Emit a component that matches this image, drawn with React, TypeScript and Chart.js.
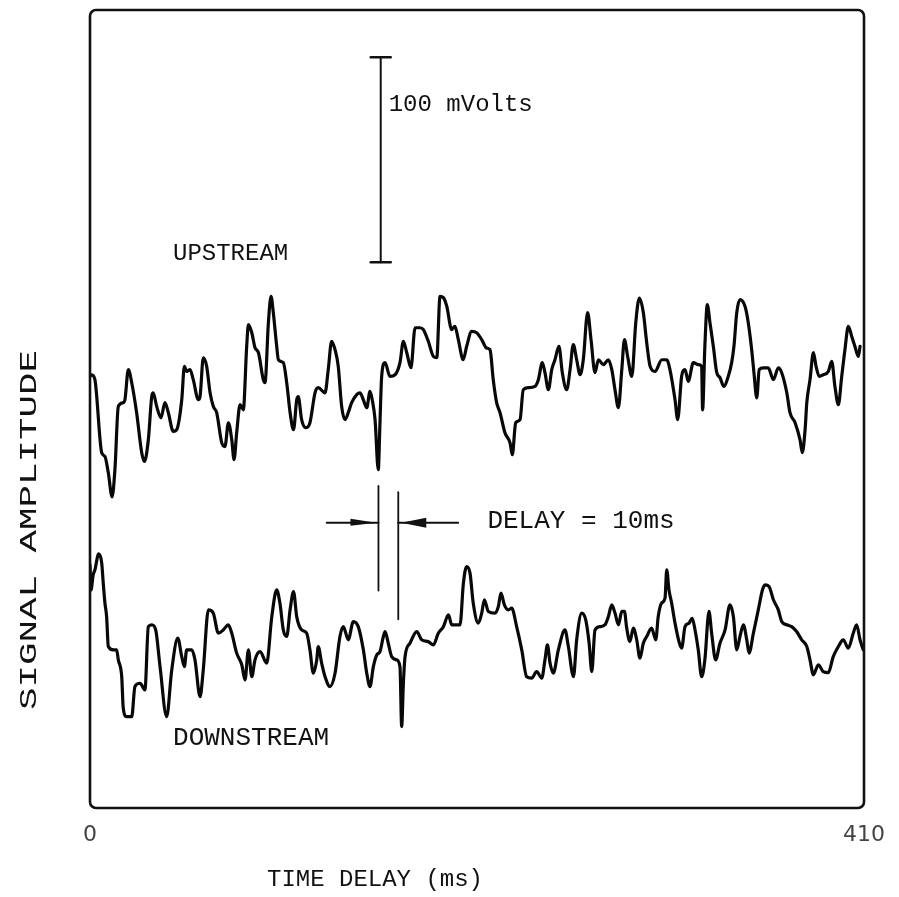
import React, { useEffect, useRef } from "react";
import { Chart, registerables } from "chart.js";

Chart.register(...registerables);

// time (ms), amplitude (mV, on an offset display scale)
const upstream: [number, number][] = [
  [0,210.4],[0.9,211.2],[2.6,208.8],[6.2,173.2],[7.9,171.4],[9.7,163.4],[11.7,151.7],[13.2,164.9],[15.0,195.8],[17.6,197.6],[18.5,199.0],[20.3,213.7],[22.1,207.3],[24.7,192.7],[27.4,173.2],[28.8,168.9],[30.9,179.5],[32.7,200.6],[33.5,202.4],[35.3,195.8],[37.6,190.2],[39.7,197.6],[41.5,192.7],[44.1,183.6],[45.9,184.4],[48.6,199.0],[50.0,215.3],[51.2,212.8],[53.0,213.7],[54.7,208.8],[57.4,199.0],[58.3,200.6],[60.0,219.4],[61.8,215.3],[63.6,202.4],[65.3,195.8],[67.1,192.7],[69.8,178.0],[71.5,176.2],[73.3,187.8],[75.1,179.5],[76.3,169.8],[77.7,182.9],[79.5,196.6],[81.2,194.1],[83.0,225.0],[83.9,235.6],[85.7,231.7],[87.4,224.4],[89.2,222.0],[91.8,208.8],[92.7,207.3],[94.5,236.6],[95.9,249.4],[97.1,241.5],[98.9,225.0],[99.8,218.5],[102.4,217.1],[104.2,207.3],[106.0,192.7],[107.8,184.4],[109.5,199.0],[110.3,200.6],[112.1,189.3],[114.3,185.4],[116.5,187.8],[119.2,202.4],[120.9,204.9],[124.5,202.4],[126.2,213.7],[128.0,227.5],[129.8,223.4],[131.5,215.3],[133.3,195.8],[135.1,189.3],[136.8,192.7],[138.6,197.6],[141.3,201.5],[143.0,202.4],[144.8,199.0],[146.6,195.1],[148.3,203.1],[149.5,199.0],[151.0,189.3],[152.7,164.9],[153.6,187.8],[154.5,210.4],[156.3,217.1],[158.9,210.4],[161.6,211.2],[164.2,217.1],[166.0,227.5],[167.8,221.9],[170.0,214.6],[172.2,234.1],[174.8,234.1],[176.6,233.2],[179.2,227.5],[181.9,220.1],[183.7,219.5],[185.4,249.4],[187.2,248.8],[189.0,244.5],[191.6,233.2],[193.3,234.8],[195.1,228.3],[197.7,218.5],[199.5,225.0],[202.2,232.3],[204.8,231.7],[207.5,228.3],[210.1,224.2],[211.9,223.4],[213.6,208.8],[215.4,197.6],[217.2,192.7],[219.8,182.9],[222.5,178.0],[223.7,172.2],[225.5,187.8],[227.8,189.3],[229.5,203.9],[232.2,204.9],[235.7,205.5],[237.5,208.8],[239.6,217.1],[241.0,212.2],[242.8,203.9],[244.6,213.7],[246.3,218.5],[248.4,225.0],[250.2,212.2],[252.5,203.9],[254.3,213.7],[256.0,225.9],[257.8,218.5],[259.6,211.2],[261.3,218.5],[263.6,241.5],[265.4,228.3],[267.5,212.2],[269.3,218.5],[271.9,216.1],[274.6,218.5],[276.4,213.7],[278.1,203.9],[279.9,195.1],[281.7,213.7],[283.1,228.3],[284.8,220.1],[287.0,210.4],[289.1,236.6],[291.0,248.6],[293.1,241.5],[294.9,226.8],[296.7,215.3],[299.3,212.8],[302.9,218.5],[305.5,218.5],[307.2,213.7],[309.9,199.0],[311.3,189.3],[313.4,210.4],[315.2,213.7],[316.9,208.0],[319.6,217.1],[322.2,216.1],[324.0,215.3],[324.5,194.1],[325.7,225.0],[327.0,245.4],[328.4,236.6],[330.2,225.0],[332.0,212.2],[333.7,209.8],[335.8,205.5],[338.1,210.4],[339.9,217.1],[341.1,225.0],[342.6,241.5],[344.3,247.8],[347.0,244.5],[348.7,236.6],[350.5,223.4],[351.7,212.2],[353.2,199.9],[354.5,213.7],[356.7,214.5],[359.3,214.5],[362.0,208.8],[364.6,214.5],[366.4,212.2],[369.1,202.4],[370.8,192.7],[373.5,187.8],[376.1,179.5],[377.3,173.2],[378.8,184.4],[379.7,197.6],[381.4,208.8],[383.2,222.0],[384.6,215.3],[386.3,210.4],[388.4,211.2],[391.1,212.8],[392.9,217.7],[394.6,205.5],[396.4,196.6],[398.2,210.4],[399.9,223.4],[401.7,234.8],[403.5,229.9],[405.2,225.0],[407.0,220.1],[407.9,225.0]
];

const downstream: [number, number][] = [
  [0,118.5],[0.5,106.3],[1.7,113.7],[2.6,116.1],[4.6,123.9],[6.2,119.5],[7.0,109.8],[7.9,100.0],[8.8,93.3],[9.7,78.7],[12.3,77.1],[14.1,77.1],[15.0,72.2],[16.8,64.0],[17.6,48.8],[19.4,44.5],[22.1,44.5],[23.8,59.2],[26.5,60.8],[29.1,57.6],[30.9,88.4],[32.7,89.3],[34.8,86.8],[37.1,68.9],[40.6,44.5],[43.3,67.3],[46.5,82.8],[48.6,73.8],[50.0,68.9],[51.2,77.1],[53.9,77.1],[55.6,72.2],[58.3,54.3],[60.0,67.3],[62.7,96.6],[65.3,95.0],[68.0,85.2],[70.6,86.8],[73.3,89.3],[75.1,85.2],[77.7,75.5],[80.4,69.8],[82.1,62.4],[83.9,77.1],[85.7,64.0],[87.4,72.2],[90.1,76.2],[93.6,70.6],[96.3,93.3],[98.9,106.3],[100.6,99.9],[102.4,86.8],[104.2,83.6],[106.0,96.6],[107.8,105.5],[109.5,93.3],[112.1,86.8],[114.8,85.2],[116.5,77.1],[118.3,65.7],[120.1,72.2],[120.9,78.7],[122.7,70.6],[124.5,64.0],[127.1,59.2],[129.8,65.7],[132.4,83.6],[134.2,88.4],[136.8,82.0],[139.5,90.9],[142.1,88.4],[144.8,77.1],[146.6,65.7],[148.3,59.2],[150.1,68.9],[151.9,74.6],[153.6,76.2],[155.4,83.6],[156.3,86.0],[158.0,80.3],[159.8,73.8],[162.5,72.2],[164.2,68.9],[165.1,39.7],[166.0,60.8],[166.9,73.8],[169.5,80.3],[173.1,86.0],[175.7,82.0],[179.2,81.1],[181.9,79.5],[184.5,85.2],[187.2,88.4],[189.9,94.1],[191.6,89.3],[196.0,89.3],[197.8,109.6],[199.5,117.7],[201.3,114.5],[203.0,99.9],[205.7,90.1],[207.5,95.0],[208.9,101.5],[211.0,95.8],[214.5,95.0],[216.3,98.2],[217.7,104.7],[219.5,99.0],[221.6,96.6],[223.4,97.4],[226.0,88.4],[228.7,77.1],[231.3,64.0],[234.0,63.3],[236.6,66.5],[239.3,63.3],[241.0,72.2],[242.3,79.5],[243.7,70.6],[245.4,65.7],[248.1,77.1],[251.6,86.8],[253.4,78.7],[256.1,64.0],[257.8,82.0],[260.5,95.0],[262.6,91.7],[264.4,80.3],[265.8,66.5],[267.5,86.8],[270.2,88.4],[272.8,89.3],[274.6,93.3],[276.4,99.0],[278.1,95.0],[279.9,89.3],[281.7,95.8],[283.1,95.8],[284.3,87.7],[286.0,81.1],[287.8,87.7],[289.6,82.0],[291.3,73.0],[293.1,80.3],[294.9,83.6],[297.5,87.7],[299.7,82.0],[301.0,93.3],[302.8,99.9],[304.6,102.3],[305.5,116.1],[306.7,106.3],[308.1,99.9],[309.9,90.1],[312.0,81.1],[313.4,77.9],[315.2,88.4],[317.3,90.1],[319.0,92.5],[320.5,86.8],[322.2,77.1],[324.0,64.0],[325.7,72.2],[327.9,95.8],[329.3,85.2],[331.4,72.2],[333.7,80.3],[336.4,86.8],[339.0,99.0],[340.8,93.3],[342.6,77.1],[344.3,83.6],[346.1,89.3],[347.9,82.0],[349.1,75.5],[351.4,85.2],[354.0,96.6],[356.2,106.3],[357.6,108.8],[359.7,108.0],[362.0,101.5],[364.6,96.6],[366.4,90.9],[369.1,89.3],[371.7,88.4],[374.3,86.0],[377.0,82.0],[379.7,78.7],[381.4,72.2],[383.2,64.9],[385.8,69.8],[388.4,66.5],[391.1,66.0],[393.7,73.8],[396.4,78.7],[399.0,82.0],[401.7,77.9],[404.3,85.2],[406.1,89.3],[407.9,82.0],[409.6,77.1]
];

const xTickValues = [0, 410];
const scaleBarMv = 100;
const delayMs = 10;

const TYPE = '"Liberation Mono", "DejaVu Sans Mono", monospace';

function drawText(
  ctx: CanvasRenderingContext2D,
  text: string,
  x: number,
  y: number,
  size: number,
  align: CanvasTextAlign,
  width?: number,
  angle = 0
) {
  ctx.save();
  ctx.translate(x, y);
  ctx.rotate(angle);
  ctx.font = `${size}px ${TYPE}`;
  const w = ctx.measureText(text).width;
  if (width) ctx.scale(width / w, 1);
  ctx.fillStyle = "#111";
  ctx.textBaseline = "middle";
  ctx.textAlign = align;
  ctx.fillText(text, 0, 0);
  ctx.restore();
}

const annotations = {
  id: "annotations",
  afterDraw(chart: any) {
    const ctx: CanvasRenderingContext2D = chart.ctx;
    const { left, right, top, bottom } = chart.chartArea;
    const X = (t: number) => chart.scales.x.getPixelForValue(t);
    const Y = (v: number) => chart.scales.y.getPixelForValue(v);
    ctx.save();
    ctx.strokeStyle = "#111";
    ctx.lineCap = "round";

    // frame
    ctx.lineWidth = 2.6;
    ctx.beginPath();
    (ctx as any).roundRect(left, top, right - left, bottom - top, 6);
    ctx.stroke();

    // 100 mV scale bar
    const barT = 154;
    const barBottom = 266;
    ctx.lineWidth = 2;
    ctx.beginPath();
    ctx.moveTo(X(barT), Y(barBottom));
    ctx.lineTo(X(barT), Y(barBottom + scaleBarMv));
    ctx.stroke();
    ctx.lineWidth = 2.5;
    for (const v of [barBottom, barBottom + scaleBarMv]) {
      ctx.beginPath();
      ctx.moveTo(X(barT) - 10, Y(v));
      ctx.lineTo(X(barT) + 10, Y(v));
      ctx.stroke();
    }
    drawText(ctx, `${scaleBarMv} mVolts`, X(barT) + 8, Y(343), 24, "left");

    // delay markers
    const t1 = 152.8;
    const t2 = t1 + delayMs + 0.5;
    ctx.lineWidth = 1.8;
    ctx.beginPath();
    ctx.moveTo(X(t1), Y(157));
    ctx.lineTo(X(t1), Y(106));
    ctx.moveTo(X(t2), Y(154));
    ctx.lineTo(X(t2), Y(92));
    ctx.stroke();
    const ya = Y(139);
    ctx.lineWidth = 2;
    ctx.beginPath();
    ctx.moveTo(X(125.4), ya);
    ctx.lineTo(X(t1), ya);
    ctx.moveTo(X(t2), ya);
    ctx.lineTo(X(195), ya);
    ctx.stroke();
    ctx.fillStyle = "#111";
    // right-pointing arrowhead
    ctx.beginPath();
    ctx.moveTo(X(t1) - 2, ya);
    ctx.lineTo(X(t1) - 28, ya - 4);
    ctx.lineTo(X(t1) - 28, ya + 3);
    ctx.closePath();
    ctx.fill();
    // left-pointing arrowhead
    ctx.beginPath();
    ctx.moveTo(X(t2) + 3, ya);
    ctx.lineTo(X(t2) + 28, ya - 5);
    ctx.lineTo(X(t2) + 28, ya + 5);
    ctx.closePath();
    ctx.fill();
    drawText(ctx, `DELAY = ${delayMs}ms`, X(210.5), Y(140), 26, "left");

    // trace labels
    drawText(ctx, "UPSTREAM", X(105), Y(270), 24, "right");
    drawText(ctx, "DOWNSTREAM", X(44), Y(34), 26, "left");

    // axis titles
    drawText(ctx, "TIME DELAY (ms)", 375, 880, 24, "center");
    drawText(ctx, "SIGNAL AMPLITUDE", 30, 530, 24, "center", 360, -Math.PI / 2);
    ctx.restore();
  },
};

export default function App() {
  const ref = useRef<HTMLCanvasElement>(null);
  useEffect(() => {
    document.body.style.margin = "0";
    const canvas = ref.current!;
    const lineStyle = {
      borderColor: "#080808",
      borderWidth: 3.2,
      pointRadius: 0,
      tension: 0.25,
      cubicInterpolationMode: "monotone",
      borderJoinStyle: "round",
      borderCapStyle: "round",
    };
    const chart = new Chart(canvas, {
      type: "line",
      data: {
        datasets: [
          { label: "UPSTREAM", data: upstream.map(([x, y]) => ({ x, y })), ...lineStyle },
          { label: "DOWNSTREAM", data: downstream.map(([x, y]) => ({ x, y })), ...lineStyle },
        ],
      },
      options: {
        responsive: false,
        animation: false,
        layout: { padding: { left: 90, right: 35, top: 10, bottom: 0 } },
        plugins: { legend: { display: false }, tooltip: { enabled: false } },
        scales: {
          x: {
            type: "linear",
            min: 0,
            max: 410,
            grid: { display: false, drawTicks: false },
            border: { display: false },
            afterBuildTicks: (s: any) => {
              s.ticks = xTickValues.map((value) => ({ value }));
            },
            afterFit: (s: any) => {
              s.height = 89;
            },
            ticks: {
              padding: 14,
              autoSkip: false,
              maxRotation: 0,
              color: "#444",
              font: { family: '"DejaVu Sans", sans-serif', size: 22 },
            },
          },
          y: { display: false, min: 0, max: 389 },
        },
      },
      plugins: [annotations],
    } as any);
    return () => chart.destroy();
  }, []);
  return <canvas ref={ref} width={899} height={897} style={{ display: "block" }} />;
}
